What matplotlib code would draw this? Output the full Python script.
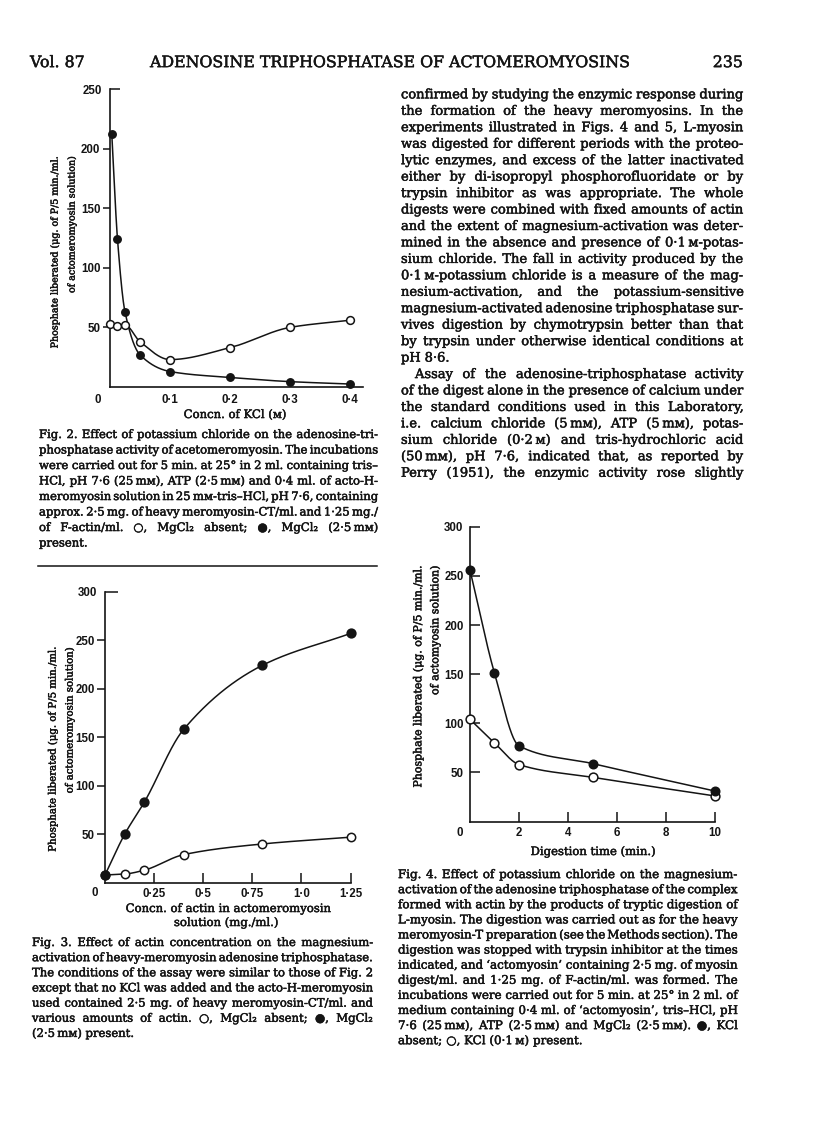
import numpy as np
import matplotlib
matplotlib.use('Agg')
import matplotlib.pyplot as plt
from matplotlib.font_manager import FontProperties
from matplotlib.ticker import FixedLocator, FixedFormatter
from matplotlib.lines import Line2D
import matplotlib.patheffects as pe

# Fig. 2: KCl concentration (M) against phosphate liberated
kcl_open = [0.0, 0.0125, 0.025, 0.05, 0.1, 0.2, 0.3, 0.4]
pi_kcl_open = [53, 51.5, 52, 38, 23, 33, 50, 56]
kcl_filled = [0.003, 0.0125, 0.025, 0.05, 0.1, 0.2, 0.3, 0.4]
pi_kcl_filled = [212, 124, 63, 27, 13, 8, 4.5, 2.5]
kcl_ticks = [0.1, 0.2, 0.3, 0.4]
kcl_ticklabels = ['0·1', '0·2', '0·3', '0·4']
fig2_yticks = [50, 100, 150, 200]

# Fig. 3: actin concentration (mg./ml.)
actin = [0.0, 0.1, 0.2, 0.4, 0.8, 1.25]
pi_actin_open = [8, 9, 13, 29, 40, 47]
pi_actin_filled = [8, 50, 83, 158, 224, 257]
actin_ticks = [0.25, 0.5, 0.75, 1.0, 1.25]
actin_ticklabels = ['0·25', '0·5', '0·75', '1·0', '1·25']
fig3_yticks = [50, 100, 150, 200, 250]

# Fig. 4: digestion time (min.)
digest_time = [0, 1, 2, 5, 10]
pi_time_filled = [256, 151, 77, 59, 31]
pi_time_open = [104, 80, 58, 45, 26]
time_ticks = [2, 4, 6, 8, 10]
fig4_yticks = [50, 100, 150, 200, 250, 300]

header = ['Vol. 87', 'ADENOSINE TRIPHOSPHATASE OF ACTOMEROMYOSINS', '235']

body = [
    'confirmed by studying the enzymic response during',
    'the formation of the heavy meromyosins.  In the',
    'experiments illustrated in Figs. 4 and 5, L-myosin',
    'was digested for different periods with the proteo-',
    'lytic enzymes, and excess of the latter inactivated',
    'either by di-isopropyl phosphorofluoridate or by',
    'trypsin inhibitor as was appropriate. The whole',
    'digests were combined with fixed amounts of actin',
    'and the extent of magnesium-activation was deter-',
    'mined in the absence and presence of 0·1\u2009ᴍ-potas-',
    'sium chloride. The fall in activity produced by the',
    '0·1\u2009ᴍ-potassium chloride is a measure of the mag-',
    'nesium-activation, and the potassium-sensitive',
    'magnesium-activated adenosine triphosphatase sur-',
    'vives digestion by chymotrypsin better than that',
    'by trypsin under otherwise identical conditions at',
    'pH 8·6.',
    'Assay of the adenosine-triphosphatase activity',
    'of the digest alone in the presence of calcium under',
    'the standard conditions used in this Laboratory,',
    'i.e. calcium chloride (5\u2009mᴍ), ATP (5\u2009mᴍ), potas-',
    'sium chloride (0·2\u2009ᴍ) and tris-hydrochloric acid',
    '(50\u2009mᴍ), pH 7·6, indicated that, as reported by',
    'Perry (1951), the enzymic activity rose slightly',
]

caption2 = [
    'Fig. 2.  Effect of potassium chloride on the adenosine-tri-',
    'phosphatase activity of acetomeromyosin. The incubations',
    'were carried out for 5 min. at 25° in 2 ml. containing tris–',
    'HCl, pH 7·6 (25\u2009mᴍ), ATP (2·5\u2009mᴍ) and 0·4 ml. of acto-H-',
    'meromyosin solution in 25\u2009mᴍ-tris–HCl, pH 7·6, containing',
    'approx. 2·5 mg. of heavy meromyosin-CT/ml. and 1·25 mg./',
    'of F-actin/ml.  ○, MgCl₂ absent; ●, MgCl₂ (2·5\u2009mᴍ)',
    'present.',
]

caption3 = [
    'Fig. 3.  Effect of actin concentration on the magnesium-',
    'activation of heavy-meromyosin adenosine triphosphatase.',
    'The conditions of the assay were similar to those of Fig. 2',
    'except that no KCl was added and the acto-H-meromyosin',
    'used contained 2·5 mg. of heavy meromyosin-CT/ml. and',
    'various amounts of actin.  ○, MgCl₂ absent; ●, MgCl₂',
    '(2·5\u2009mᴍ) present.',
]

caption4 = [
    'Fig. 4.  Effect of potassium chloride on the magnesium-',
    'activation of the adenosine triphosphatase of the complex',
    'formed with actin by the products of tryptic digestion of',
    'L-myosin. The digestion was carried out as for the heavy',
    'meromyosin-T preparation (see the Methods section). The',
    'digestion was stopped with trypsin inhibitor at the times',
    'indicated, and ‘actomyosin’ containing 2·5 mg. of myosin',
    'digest/ml. and 1·25 mg. of F-actin/ml. was formed. The',
    'incubations were carried out for 5 min. at 25° in 2 ml. of',
    'medium containing 0·4 ml. of ‘actomyosin’, tris–HCl, pH',
    '7·6 (25\u2009mᴍ), ATP (2·5\u2009mᴍ) and MgCl₂ (2·5\u2009mᴍ).  ●, KCl',
    'absent; ○, KCl (0·1\u2009ᴍ) present.',
]

W, H = 816, 1138
INK = '#141414'
SERIF = ['DejaVu Serif', 'DejaVu Sans']
TICK_SIZE = 8.3
BOLDEN = [pe.withStroke(linewidth=0.35, foreground=INK)]
plt.rcParams['font.family'] = ['Liberation Sans', 'DejaVu Sans']
plt.rcParams['font.weight'] = 'bold'

fig = plt.figure(figsize=(W / 100, H / 100), dpi=100)
fig.patch.set_facecolor('white')
renderer = fig.canvas.get_renderer()


def fx(x):
    return x / W


def fy(y):
    return 1 - y / H


def serif(size):
    return FontProperties(family=SERIF, size=size, weight='normal')


def width(s, fp):
    return renderer.get_text_width_height_descent(s, fp, ismath=False)[0]


def fit(s, target):
    return 10 * target / width(s, serif(10))


def put(x, y, s, fp, **kw):
    # y = middle of the lower-case letters, page pixels from the top
    base = y + 0.26 * fp.get_size_in_points() * 100 / 72
    return fig.text(fx(x), fy(base), s, fontproperties=fp, color=INK,
                    va='baseline', path_effects=BOLDEN, **kw)


def words_of(line):
    return [w for w in line.split(' ') if w]


def para(lines, x0, x1, y0, dy, ragged=(), indent=None, squeeze=0.55):
    indent = indent or {}
    ref = serif(10)
    sp10 = width('n n', ref) - width('nn', ref)
    sizes = []
    for i, l in enumerate(lines):
        if i in ragged:
            continue
        ws = words_of(l)
        natural = sum(width(w, ref) for w in ws) + (len(ws) - 1) * squeeze * sp10
        sizes.append(10 * (x1 - x0 - indent.get(i, 0)) / natural)
    fp = serif(min(sizes))
    space = width('n n', fp) - width('nn', fp)
    for i, line in enumerate(lines):
        words = words_of(line)
        start = x0 + indent.get(i, 0)
        ws = [width(w, fp) for w in words]
        gap = space
        if i not in ragged and len(words) > 1:
            gap = (x1 - start - sum(ws)) / (len(words) - 1)
        x = start
        for w, wd in zip(words, ws):
            put(x, y0 + i * dy, w, fp)
            x += wd + gap


def curve(ax, xs, ys):
    # smooth monotone cubic through the plotted points
    x = np.asarray(xs, float)
    y = np.asarray(ys, float)
    h = np.diff(x)
    d = np.diff(y) / h
    m = np.empty_like(y)
    m[0], m[-1] = d[0], d[-1]
    for k in range(1, len(x) - 1):
        if d[k - 1] * d[k] > 0:
            w1, w2 = 2 * h[k] + h[k - 1], h[k] + 2 * h[k - 1]
            m[k] = (w1 + w2) / (w1 / d[k - 1] + w2 / d[k])
        else:
            m[k] = 0.0
    xx = np.linspace(x[0], x[-1], 1500)
    i = np.clip(np.searchsorted(x, xx) - 1, 0, len(h) - 1)
    t = (xx - x[i]) / h[i]
    yy = ((2 * t**3 - 3 * t**2 + 1) * y[i] + (t**3 - 2 * t**2 + t) * h[i] * m[i]
          + (-2 * t**3 + 3 * t**2) * y[i + 1] + (t**3 - t**2) * h[i] * m[i + 1])
    ax.plot(xx, yy, color=INK, lw=1.1, zorder=2, clip_on=False)


def series(ax, xs, ys, filled, ms):
    curve(ax, xs, ys)
    ax.plot(xs, ys, 'o', ms=ms, mew=1.1, mec=INK,
            mfc=INK if filled else 'white', zorder=3, clip_on=False)


def make_axes(left, top, right, bottom, xlim, ylim):
    ax = fig.add_axes([fx(left), fy(bottom), (right - left) / W, (bottom - top) / H])
    ax.set_xlim(*xlim)
    ax.set_ylim(*ylim)
    ax.patch.set_alpha(0)
    for s in ('top', 'right'):
        ax.spines[s].set_visible(False)
    for s in ('left', 'bottom'):
        ax.spines[s].set_linewidth(1.2)
        ax.spines[s].set_color(INK)
    return ax


def set_ticks(ax, axis, values, labels, direction, length, pad):
    a = ax.xaxis if axis == 'x' else ax.yaxis
    a.set_major_locator(FixedLocator(values))
    a.set_major_formatter(FixedFormatter(labels))
    ax.tick_params(axis=axis, which='major', direction=direction, length=length,
                   width=1.1, pad=pad, labelsize=TICK_SIZE, colors=INK)


def top_tick(ax, value, length, pad):
    ax.yaxis.set_minor_locator(FixedLocator([value]))
    ax.yaxis.set_minor_formatter(FixedFormatter([str(value)]))
    ax.tick_params(axis='y', which='minor', direction='in', length=length,
                   width=1.1, pad=pad, labelsize=TICK_SIZE, colors=INK)


def origin_zero(ax, dx, dy):
    ax.annotate('0', xy=(0, 0), xytext=(dx, dy), textcoords='offset pixels',
                ha='center', va='center', fontsize=TICK_SIZE, color=INK,
                annotation_clip=False)


def ylabel(x1, x2, top, length, line2):
    line1 = 'Phosphate liberated (μg. of P/5 min./ml.'
    fp = serif(fit(line1, length))
    for x, s in ((x1, line1), (x2, line2)):
        fig.text(fx(x), fy(top), s, fontproperties=fp, rotation=90,
                 ha='center', va='top', color=INK, path_effects=BOLDEN)


# ---- header and running text ----
hfp = serif(fit(header[1], 477))
put(30, 63, header[0], hfp)
put(150, 63, header[1], hfp)
put(743, 63, header[2], hfp, ha='right')

para(body, 401, 743, 95, 16.45, ragged={16}, indent={17: 14})
para(caption2, 39, 378, 435, 15.5, ragged={7})
para(caption3, 32, 373, 943, 15.15, ragged={6})
para(caption4, 398, 738, 875, 15.1, ragged={11})
fig.add_artist(Line2D([fx(38), fx(377)], [fy(566), fy(566)], lw=1.1, color=INK))

xl_fp = serif(fit('Concn. of actin in actomeromyosin', 206))

# ---- Fig. 2 ----
ax2 = make_axes(110, 89, 363, 387, (0, 0.4217), (0, 250))
series(ax2, kcl_open, pi_kcl_open, False, 5.6)
series(ax2, kcl_filled, pi_kcl_filled, True, 5.3)
set_ticks(ax2, 'y', fig2_yticks, [str(v) for v in fig2_yticks], 'out', 5, 2.0)
top_tick(ax2, 250, 7, 5.6)
set_ticks(ax2, 'x', kcl_ticks, kcl_ticklabels, 'in', 0, 5.3)
origin_zero(ax2, -12, -13)
ylabel(55, 72, 156, 192, 'of actomeromyosin solution)')
put(235, 415, 'Concn. of KCl (ᴍ)', xl_fp, ha='center')

# ---- Fig. 3 ----
ax3 = make_axes(105, 591.7, 350.5, 882.8, (0, 1.25), (0, 300))
series(ax3, actin, pi_actin_open, False, 6.0)
series(ax3, actin, pi_actin_filled, True, 6.3)
set_ticks(ax3, 'y', fig3_yticks, [str(v) for v in fig3_yticks], 'out', 6, 1.3)
top_tick(ax3, 300, 9, 5.6)
set_ticks(ax3, 'x', actin_ticks, actin_ticklabels, 'in', 7, 3.9)
origin_zero(ax3, -10, -10)
ylabel(53, 70, 647, 205, 'of actomeromyosin solution)')
put(228, 909, 'Concn. of actin in actomeromyosin', xl_fp, ha='center')
put(226, 923, 'solution (mg./ml.)', xl_fp, ha='center')

# ---- Fig. 4 ----
ax4 = make_axes(470, 526.9, 715, 821.5, (0, 10), (0, 300))
series(ax4, digest_time, pi_time_open, False, 6.3)
series(ax4, digest_time, pi_time_filled, True, 6.1)
set_ticks(ax4, 'y', fig4_yticks, [str(v) for v in fig4_yticks], 'in', 7, 4.6)
set_ticks(ax4, 'x', time_ticks, [str(v) for v in time_ticks], 'in', 7, 4.2)
origin_zero(ax4, -10, -11)
ylabel(418, 435, 565, 222, 'of actomyosin solution)')
put(593, 852, 'Digestion time (min.)', xl_fp, ha='center')

fig.savefig('out.png', dpi=100, facecolor='white')
